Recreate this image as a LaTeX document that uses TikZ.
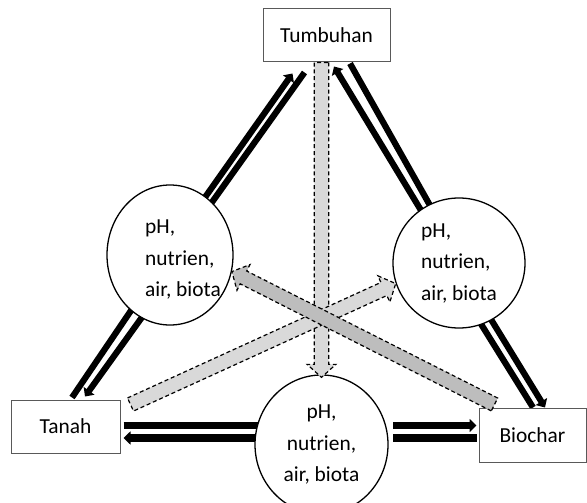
\documentclass[tikz,border=0pt]{standalone}
\usepackage{fontspec}
\setmainfont{Carlito}
\usetikzlibrary{shapes.geometric,arrows.meta,calc,backgrounds}
\definecolor{lightgr}{HTML}{D9D9D9}
\definecolor{darkgr}{HTML}{BDBDBD}

\tikzset{
  box/.style={rectangle,draw=black!65,line width=0.5pt,fill=white,inner sep=0pt},
  blob/.style={ellipse,draw=black,line width=0.65pt,fill=white,inner sep=0pt,align=left},
  bar/.style={line width=3.1pt},
  bararrow/.style={bar,-{Triangle[length=3.5pt,width=6.5pt]}},
  fat/.style={draw=black,line width=0.6pt,dash pattern=on 2pt off 1.4pt,line join=miter},
}

% wide grey arrow with dashed outline: start, tip, fill colour
\newcommand{\fatarrow}[3]{%
  \coordinate (fab) at ($(#2)!6.5pt!(#1)$);
  \filldraw[fat,fill=#3] ($(#1)!3.6pt!90:(#2)$) -- ($(fab)!3.6pt!90:(#2)$)
    -- ($(fab)!7.2pt!90:(#2)$) -- (#2) -- ($(fab)!7.2pt!-90:(#2)$)
    -- ($(fab)!3.6pt!-90:(#2)$) -- ($(#1)!3.6pt!-90:(#2)$) -- cycle;
}

\begin{document}
\begin{tikzpicture}[x=0.5pt,y=-0.5pt,font=\fontsize{10.7}{15.75}\selectfont]
    \useasboundingbox (0,0) rectangle (587,502);

    \node[box,minimum width=63.5pt,minimum height=26.5pt] (tum) at (326.5,35.5) {Tumbuhan};
    \node[box,minimum width=54.5pt,minimum height=26.5pt] (tan) at (65.5,426.5) {Tanah};
    \node[box,minimum width=53.5pt,minimum height=27pt] (bio) at (532.5,435) {Biochar};

    \node[blob,minimum width=63pt,minimum height=70pt,
          label={[align=left,shift={(13,5)}]center:{pH,\\nutrien,\\air, biota}}] (lc) at (170,255) {};
    \node[blob,minimum width=66pt,minimum height=65pt] (rc) at (459,263) {pH,\\nutrien,\\air, biota};
    \node[blob,align=center,minimum width=66.5pt,minimum height=69.5pt] (bc) at (321.5,444.5) {pH,\\nutrien,\\air, biota};

    \begin{pgfonlayer}{background}
    % black arrow pairs
    \draw[bararrow] ([shift={(31,-52)}]lc.center) -- ([shift={(30,11)}]tum.south west);
    \draw[bar] ([shift={(40,-50)}]lc.center) -- ([shift={(42,10)}]tum.south west);
    \draw[bararrow] ([shift={(-37,-51)}]rc.center) -- ([shift={(7.5,4)}]tum.south);
    \draw[bar] ([shift={(-27,-54)}]rc.center) -- ([shift={(23.5,1)}]tum.south);
    \draw[bar] ([shift={(-35.5,50.4)}]lc.center) -- ([shift={(6.5,-2)}]tan.north);
    \draw[bararrow] ([shift={(-25,58)}]lc.center) -- ([shift={(19.5,-3)}]tan.north);
    \draw[bar] ([shift={(17,53)}]rc.center) -- ([shift={(0.5,0)}]bio.north);
    \draw[bararrow] ([shift={(29,51.5)}]rc.center) -- ([shift={(12.5,0)}]bio.north);
    \draw[bar,line width=3.8pt] ([shift={(3,-1)}]tan.east) -- ([shift={(-51.5,-19)}]bc.center);
    \draw[bararrow,line width=3.8pt] ([shift={(-51.5,-6.5)}]bc.center) -- ([shift={(3,11.5)}]tan.east);
    \draw[bararrow,line width=3.8pt] ([shift={(71.5,-19)}]bc.center) -- ([shift={(-2,-9.5)}]bio.west);
    \draw[bar,line width=3.8pt] ([shift={(71.5,-6.5)}]bc.center) -- ([shift={(-2,3)}]bio.west);
    \end{pgfonlayer}

    % grey arrows
    \coordinate (v1) at (tum.south -| bc.north);
    \coordinate (v2) at ([shift={(0,3)}]bc.north);
    \coordinate (t1) at ([shift={(10,5)}]tan.north east);
    \coordinate (b1) at ([shift={(16,-3)}]bio.north west);
    \fatarrow{v1}{v2}{lightgr}
    \fatarrow{t1}{rc.198}{lightgr}
    \fatarrow{b1}{lc.-15}{darkgr}
\end{tikzpicture}
\end{document}
